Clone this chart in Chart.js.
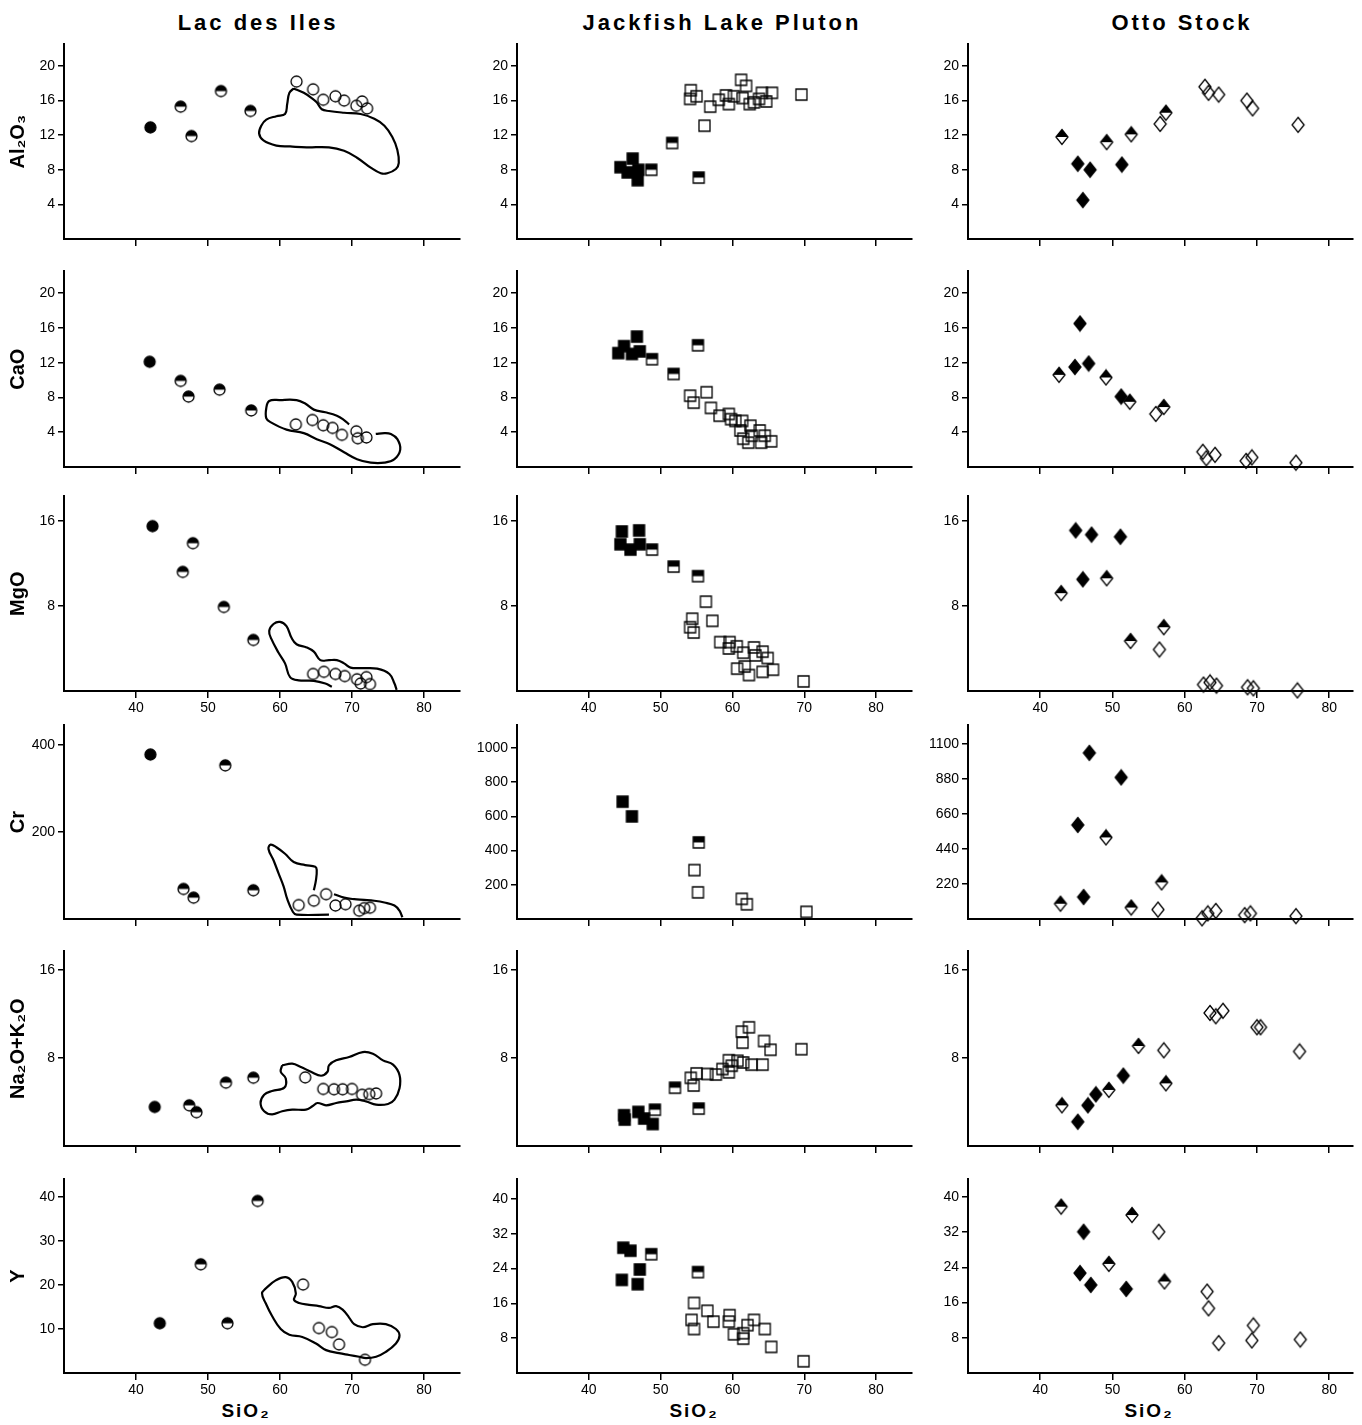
<!DOCTYPE html>
<html>
<head>
<meta charset="utf-8">
<script src="https://cdn.jsdelivr.net/npm/chart.js@4"></script>
<style>
  body { margin: 0; background: #fff; }
  #fig { position: relative; width: 1362px; height: 1425px; background: #fff; overflow: hidden; }
  .head, .xlab { position: absolute; transform: translate(-50%, -50%); white-space: nowrap; color: #000;
    font-family: "Liberation Sans", Arial, sans-serif; font-weight: bold; }
  .head { font-size: 22px; letter-spacing: 3px; }
  .xlab { font-size: 19px; letter-spacing: 2px; }
</style>
</head>
<body>
<div id="fig">
  <div class="head" style="left:258px;top:23px">Lac des Iles</div>
  <div class="head" style="left:722px;top:23px">Jackfish Lake Pluton</div>
  <div class="head" style="left:1182px;top:23px">Otto Stock</div>
  <div class="xlab" style="left:246px;top:1411px">SiO₂</div>
  <div class="xlab" style="left:694px;top:1411px">SiO₂</div>
  <div class="xlab" style="left:1149px;top:1411px">SiO₂</div>
</div>
<script>
// tick values
const siTicks = [40, 50, 60, 70, 80];
const pctTicks = [4, 8, 12, 16, 20];
const ticks8 = [8, 16];
const lacCrTicks = [200, 400];
const jlpCrTicks = [200, 400, 600, 800, 1000];
const ottoCrTicks = [220, 440, 660, 880, 1100];
const lacYTicks = [10, 20, 30, 40];
const yTicks8 = [8, 16, 24, 32, 40];

// Lac des Iles  [SiO2, value]
const lacAl2O3Filled = [[42.0, 12.9]];
const lacAl2O3Half = [[46.2, 15.3], [47.7, 11.9], [51.8, 17.1], [55.9, 14.8]];
const lacAl2O3Open = [[62.3, 18.2], [64.6, 17.3], [66.0, 16.1], [67.7, 16.5], [68.9, 16.0], [70.6, 15.4], [71.4, 15.9], [72.1, 15.1]];
const lacAl2O3Field = [[61.9, 17.4], [63.3, 16.9], [64.4, 16.3], [65.1, 15.8], [65.8, 15.0], [66.8, 14.8], [68.9, 14.6], [71.2, 14.45], [73.1, 13.9], [74.5, 13.1], [75.6, 11.8], [76.3, 10.3], [76.5, 8.8], [76.1, 8.1], [74.9, 7.6], [74.0, 7.6], [72.6, 8.25], [70.7, 9.4], [68.9, 10.2], [66.8, 10.6], [63.7, 10.6], [61.4, 10.7], [59.5, 10.8], [57.7, 11.4], [57.1, 12.2], [57.4, 13.1], [58.1, 13.8], [59.5, 14.2], [60.7, 14.45], [61.0, 15.6], [61.3, 16.9], [61.9, 17.4]];

const lacCaOFilled = [[41.9, 12.1]];
const lacCaOHalf = [[46.2, 9.9], [47.3, 8.1], [51.6, 8.9], [56.0, 6.5]];
const lacCaOOpen = [[62.2, 4.9], [64.5, 5.4], [66.0, 4.8], [67.3, 4.5], [68.6, 3.7], [70.6, 4.1], [70.8, 3.3], [72.0, 3.4]];
const lacCaOField = [[69.6, 4.9], [68.9, 5.4], [67.9, 5.9], [66.3, 6.3], [64.7, 6.6], [63.5, 7.3], [62.3, 7.7], [60.0, 7.7], [58.5, 7.6], [58.1, 6.8], [58.1, 5.6], [58.8, 5.1], [60.9, 4.3], [63.3, 3.9], [65.1, 3.2], [67.0, 2.6], [68.9, 1.7], [70.7, 0.9], [72.6, 0.5], [74.5, 0.5], [75.9, 0.9], [76.7, 2.0], [76.3, 3.2], [75.4, 3.8], [74.5, 3.9], [73.3, 3.8]];

const lacMgOFilled = [[42.3, 15.5]];
const lacMgOHalf = [[47.9, 13.9], [46.5, 11.2], [52.2, 7.9], [56.3, 4.8]];
const lacMgOOpen = [[64.6, 1.6], [66.1, 1.8], [67.7, 1.6], [69.0, 1.4], [70.7, 1.1], [72.0, 1.3], [71.2, 0.7], [72.5, 0.65]];
const lacMgOField = [[67.2, 0.4], [66.3, 0.7], [64.7, 0.96], [62.6, 1.0], [61.4, 1.3], [60.7, 2.6], [59.8, 3.6], [58.8, 4.9], [58.5, 5.65], [59.1, 6.3], [60.0, 6.5], [60.9, 6.1], [61.6, 5.0], [62.3, 4.4], [63.7, 4.1], [64.7, 3.7], [65.6, 2.9], [66.8, 2.9], [67.9, 2.9], [68.9, 2.6], [69.8, 2.2], [71.4, 2.15], [73.5, 2.1], [75.2, 1.6], [75.9, 0.7], [76.2, 0.1]];

const lacCrFilled = [[42.0, 378]];
const lacCrHalf = [[52.4, 353], [46.6, 69], [48.0, 49], [56.3, 66]];
const lacCrOpen = [[62.6, 32], [64.7, 42], [66.4, 57], [67.7, 31], [69.1, 34], [71.0, 19], [71.7, 25], [72.5, 26]];
const lacCrFieldA = [[64.7, 66], [65.0, 90], [65.1, 113], [64.9, 120], [63.5, 124], [61.9, 131], [60.7, 150], [59.5, 165], [58.7, 171], [58.4, 161], [59.1, 135], [59.8, 105], [60.5, 75], [61.0, 46], [61.8, 16], [62.3, 10], [66.8, 10]];
const lacCrFieldB = [[67.5, 57], [68.9, 49], [70.3, 45.5], [71.7, 44], [73.1, 42], [74.5, 38], [75.9, 31], [76.6, 19], [77.0, 4]];

const lacAlkFilled = [[42.6, 3.55]];
const lacAlkHalf = [[47.4, 3.7], [48.4, 3.07], [52.5, 5.76], [56.3, 6.21]];
const lacAlkOpen = [[63.5, 6.24], [66.0, 5.19], [67.5, 5.16], [68.7, 5.16], [70.0, 5.19], [71.4, 4.66], [72.4, 4.72], [73.35, 4.78]];
const lacAlkField = [[60.3, 7.34], [61.7, 7.49], [62.9, 7.19], [64.3, 6.75], [65.7, 6.39], [66.6, 6.75], [66.8, 7.34], [67.8, 7.79], [69.6, 8.09], [71.5, 8.54], [72.9, 8.39], [74.3, 7.79], [75.7, 7.4], [76.6, 6.45], [76.6, 5.25], [75.9, 4.21], [75.0, 3.82], [73.35, 3.76], [71.95, 4.06], [70.6, 4.21], [69.2, 4.06], [67.8, 3.91], [66.4, 3.7], [65.2, 3.91], [64.5, 3.61], [63.6, 3.31], [61.7, 3.31], [60.3, 3.16], [58.9, 2.87], [57.8, 3.16], [57.3, 3.91], [57.8, 4.66], [58.9, 5.01], [60.6, 5.31], [60.8, 6.15], [60.1, 6.75], [60.3, 7.34]];

const lacYFilled = [[43.3, 11.3]];
const lacYHalf = [[49.0, 24.7], [52.7, 11.3], [56.9, 39.1]];
const lacYOpen = [[63.2, 20.1], [65.4, 10.2], [67.2, 9.3], [68.2, 6.5], [71.8, 3.0]];
const lacYField = [[58.0, 19.2], [59.4, 21.05], [60.8, 21.8], [61.7, 20.7], [62.2, 18.1], [61.95, 16.6], [62.65, 15.9], [64.05, 15.5], [65.4, 15.2], [66.8, 14.8], [67.8, 15.2], [68.7, 14.4], [69.6, 12.6], [70.3, 11.1], [71.5, 10.4], [72.9, 11.1], [74.7, 11.1], [76.1, 10.0], [76.6, 8.5], [76.1, 6.7], [74.7, 4.8], [73.35, 3.7], [71.95, 3.4], [71.0, 3.7], [69.6, 4.1], [68.2, 4.5], [66.4, 5.2], [65.0, 6.7], [63.1, 8.2], [61.3, 8.7], [60.1, 10.0], [58.9, 12.95], [58.0, 15.9], [57.5, 18.1], [58.0, 19.2]];

// Jackfish Lake Pluton
const jlpAl2O3Filled = [[44.4, 8.3], [46.1, 9.3], [45.4, 7.7], [46.9, 8.0], [46.8, 6.8]];
const jlpAl2O3Half = [[48.7, 8.0], [51.6, 11.1], [55.3, 7.1]];
const jlpAl2O3Open = [[54.2, 17.2], [54.1, 16.2], [55.0, 16.5], [56.9, 15.3], [56.1, 13.1], [58.1, 16.1], [59.1, 16.6], [59.5, 15.6], [60.2, 16.5], [61.2, 18.4], [61.9, 17.7], [61.4, 16.3], [62.4, 15.6], [63.0, 15.8], [63.7, 16.2], [64.1, 16.9], [64.7, 15.9], [65.5, 16.9], [69.6, 16.7]];

const jlpCaOFilled = [[44.1, 13.1], [44.9, 13.9], [46.0, 13.0], [46.7, 15.0], [47.1, 13.3]];
const jlpCaOHalf = [[48.8, 12.4], [51.8, 10.7], [55.2, 14.0]];
const jlpCaOOpen = [[54.1, 8.2], [54.6, 7.4], [56.4, 8.6], [57.0, 6.8], [58.2, 5.9], [59.5, 6.1], [59.8, 5.5], [60.4, 5.3], [61.35, 5.3], [61.1, 4.2], [61.5, 3.25], [62.5, 4.75], [62.7, 3.6], [62.2, 2.8], [63.8, 4.2], [64.5, 3.6], [64.0, 2.8], [65.4, 2.95]];

const jlpMgOFilled = [[44.6, 15.0], [47.0, 15.1], [44.4, 13.8], [45.8, 13.3], [47.1, 13.8]];
const jlpMgOHalf = [[48.8, 13.3], [51.8, 11.7], [55.2, 10.8]];
const jlpMgOOpen = [[56.3, 8.4], [54.4, 6.8], [54.1, 6.0], [54.6, 5.5], [57.2, 6.6], [58.3, 4.6], [59.6, 4.6], [59.5, 4.0], [60.6, 4.2], [61.5, 3.6], [63.0, 4.1], [63.2, 3.35], [64.2, 3.7], [64.9, 3.1], [60.65, 2.1], [61.7, 2.3], [62.3, 1.5], [64.2, 1.8], [65.65, 2.0], [69.9, 0.9]];

const jlpCrFilled = [[44.7, 686], [46.0, 600]];
const jlpCrHalf = [[55.3, 448]];
const jlpCrOpen = [[54.7, 286], [55.2, 156], [61.3, 118], [62.0, 86], [70.3, 42]];

const jlpAlkFilled = [[44.9, 2.8], [45.0, 2.4], [46.9, 3.1], [47.7, 2.5], [48.9, 2.0]];
const jlpAlkHalf = [[49.2, 3.3], [52.0, 5.3], [55.3, 3.4]];
const jlpAlkOpen = [[54.2, 6.2], [54.6, 5.5], [55.0, 6.6], [56.5, 6.55], [57.7, 6.5], [58.6, 7.0], [59.5, 7.8], [59.5, 6.7], [59.9, 7.3], [60.7, 7.75], [61.5, 7.6], [61.3, 10.4], [61.4, 9.4], [62.3, 10.8], [62.65, 7.4], [64.2, 7.4], [64.4, 9.55], [65.3, 8.75], [69.6, 8.8]];

const jlpYFilled = [[44.8, 28.8], [45.8, 28.1], [44.6, 21.4], [47.1, 23.8], [46.8, 20.4]];
const jlpYHalf = [[48.7, 27.3], [55.2, 23.2]];
const jlpYOpen = [[54.65, 16.1], [54.3, 12.2], [54.65, 10.1], [56.5, 14.3], [57.35, 11.8], [59.6, 13.3], [59.5, 11.8], [60.2, 8.9], [61.5, 7.9], [61.5, 9.15], [62.1, 11.0], [63.0, 12.2], [64.5, 10.1], [65.4, 6.0], [69.9, 2.7]];

// Otto Stock
const ottoAl2O3Filled = [[45.2, 8.7], [46.9, 8.0], [45.9, 4.5], [51.3, 8.6]];
const ottoAl2O3Half = [[43.0, 11.8], [49.2, 11.2], [52.6, 12.1], [57.4, 14.6]];
const ottoAl2O3Open = [[56.6, 13.3], [62.8, 17.6], [63.3, 16.9], [64.7, 16.7], [68.6, 16.0], [69.4, 15.1], [75.7, 13.2]];

const ottoCaOFilled = [[45.5, 16.5], [44.8, 11.5], [46.7, 11.9], [51.2, 8.1]];
const ottoCaOHalf = [[42.6, 10.6], [49.1, 10.3], [52.4, 7.5], [57.1, 6.9]];
const ottoCaOOpen = [[56.0, 6.1], [62.5, 1.75], [63.0, 1.0], [64.2, 1.4], [68.5, 0.7], [69.3, 1.1], [75.4, 0.5]];

const ottoMgOFilled = [[44.9, 15.1], [47.1, 14.7], [51.1, 14.5], [45.9, 10.5]];
const ottoMgOHalf = [[42.9, 9.2], [49.2, 10.6], [52.5, 4.7], [57.1, 6.0]];
const ottoMgOOpen = [[56.5, 3.9], [62.6, 0.6], [63.5, 0.8], [64.4, 0.5], [68.7, 0.35], [69.5, 0.25], [75.6, 0.05]];

const ottoCrFilled = [[46.8, 1044], [51.2, 890], [45.2, 591], [46.0, 138]];
const ottoCrHalf = [[49.1, 513], [56.8, 230], [42.8, 96], [52.6, 72]];
const ottoCrOpen = [[56.3, 59], [62.4, 4], [63.2, 35], [64.3, 51], [68.3, 24], [69.1, 35], [75.4, 18]];

const ottoAlkFilled = [[45.2, 2.2], [46.6, 3.7], [47.7, 4.7], [51.5, 6.4]];
const ottoAlkHalf = [[43.0, 3.7], [49.5, 5.1], [53.6, 9.1], [57.4, 5.7]];
const ottoAlkOpen = [[57.1, 8.7], [63.5, 12.1], [64.3, 11.8], [65.3, 12.3], [70.0, 10.8], [70.5, 10.8], [75.9, 8.6]];

const ottoYFilled = [[46.0, 32.1], [45.5, 22.7], [47.0, 20.0], [51.9, 19.1]];
const ottoYHalf = [[42.9, 37.8], [52.7, 35.9], [49.5, 24.8], [57.2, 20.8]];
const ottoYOpen = [[56.4, 32.1], [63.1, 18.5], [63.3, 14.7], [69.5, 10.8], [69.3, 7.4], [64.7, 6.8], [76.0, 7.6]];

Chart.defaults.font.family = '"Liberation Sans", Arial, sans-serif';
Chart.defaults.font.size = 14;
Chart.defaults.color = '#000';

// marker pictures: filled / half (top black) / open
function marker(shape, fill) {
  const w = shape === 'diamond' ? 16 : 15;
  const h = shape === 'diamond' ? 18 : 15;
  const c = document.createElement('canvas');
  c.width = w; c.height = h;
  const g = c.getContext('2d');
  const path = () => {
    g.beginPath();
    if (shape === 'circle') g.arc(7.5, 7.5, 5.5, 0, Math.PI * 2);
    else if (shape === 'square') g.rect(2, 2, 11, 11);
    else { g.moveTo(8, 1.5); g.lineTo(14, 9); g.lineTo(8, 16.5); g.lineTo(2, 9); g.closePath(); }
  };
  if (fill === 'half') {
    path(); g.fillStyle = '#fff'; g.fill();
    g.save(); g.beginPath(); g.rect(0, 0, w, h / 2); g.clip();
    path(); g.fillStyle = '#000'; g.fill(); g.restore();
  }
  if (fill === 'filled') { path(); g.fillStyle = '#000'; g.fill(); }
  path(); g.lineWidth = 1.3; g.strokeStyle = '#000'; g.stroke();
  return c;
}

const columns = [
  { left: 64, right: 460, xMax: 85, shape: 'circle' },
  { left: 517, right: 912, xMax: 85, shape: 'square' },
  { left: 968, right: 1353, xMax: 83.3, shape: 'diamond' }
];
const rows = [[41, 239], [268, 467], [493, 691], [722, 919], [948, 1146], [1176, 1373]];
const rowTitles = ['Al₂O₃', 'CaO', 'MgO', 'Cr', 'Na₂O+K₂O', 'Y'];

const panels = [
  { r: 0, c: 0, yMax: 22.5, ticks: pctTicks, filled: lacAl2O3Filled, half: lacAl2O3Half, open: lacAl2O3Open, field: [lacAl2O3Field] },
  { r: 1, c: 0, yMax: 22.5, ticks: pctTicks, filled: lacCaOFilled, half: lacCaOHalf, open: lacCaOOpen, field: [lacCaOField] },
  { r: 2, c: 0, yMax: 18.3, ticks: ticks8, filled: lacMgOFilled, half: lacMgOHalf, open: lacMgOOpen, field: [lacMgOField] },
  { r: 3, c: 0, yMax: 445, ticks: lacCrTicks, filled: lacCrFilled, half: lacCrHalf, open: lacCrOpen, field: [lacCrFieldA, lacCrFieldB] },
  { r: 4, c: 0, yMax: 17.7, ticks: ticks8, filled: lacAlkFilled, half: lacAlkHalf, open: lacAlkOpen, field: [lacAlkField] },
  { r: 5, c: 0, yMax: 44, ticks: lacYTicks, filled: lacYFilled, half: lacYHalf, open: lacYOpen, field: [lacYField] },
  { r: 0, c: 1, yMax: 22.5, ticks: pctTicks, filled: jlpAl2O3Filled, half: jlpAl2O3Half, open: jlpAl2O3Open, field: [] },
  { r: 1, c: 1, yMax: 22.5, ticks: pctTicks, filled: jlpCaOFilled, half: jlpCaOHalf, open: jlpCaOOpen, field: [] },
  { r: 2, c: 1, yMax: 18.3, ticks: ticks8, filled: jlpMgOFilled, half: jlpMgOHalf, open: jlpMgOOpen, field: [] },
  { r: 3, c: 1, yMax: 1132, ticks: jlpCrTicks, filled: jlpCrFilled, half: jlpCrHalf, open: jlpCrOpen, field: [] },
  { r: 4, c: 1, yMax: 17.7, ticks: ticks8, filled: jlpAlkFilled, half: jlpAlkHalf, open: jlpAlkOpen, field: [] },
  { r: 5, c: 1, yMax: 44.5, ticks: yTicks8, filled: jlpYFilled, half: jlpYHalf, open: jlpYOpen, field: [] },
  { r: 0, c: 2, yMax: 22.5, ticks: pctTicks, filled: ottoAl2O3Filled, half: ottoAl2O3Half, open: ottoAl2O3Open, field: [] },
  { r: 1, c: 2, yMax: 22.5, ticks: pctTicks, filled: ottoCaOFilled, half: ottoCaOHalf, open: ottoCaOOpen, field: [] },
  { r: 2, c: 2, yMax: 18.3, ticks: ticks8, filled: ottoMgOFilled, half: ottoMgOHalf, open: ottoMgOOpen, field: [] },
  { r: 3, c: 2, yMax: 1217, ticks: ottoCrTicks, filled: ottoCrFilled, half: ottoCrHalf, open: ottoCrOpen, field: [] },
  { r: 4, c: 2, yMax: 17.7, ticks: ticks8, filled: ottoAlkFilled, half: ottoAlkHalf, open: ottoAlkOpen, field: [] },
  { r: 5, c: 2, yMax: 44, ticks: yTicks8, filled: ottoYFilled, half: ottoYHalf, open: ottoYOpen, field: [] }
];

const pts = arr => arr.map(([x, y]) => ({ x: x, y: y }));

function makePanel(p) {
  const col = columns[p.c];
  const [top, bottom] = rows[p.r];
  const yW = p.c === 0 ? 64 : 62;
  const padT = 8, padR = 8, xH = 40;
  const w = yW + (col.right - col.left) + padR;
  const h = padT + (bottom - top) + xH;

  const canvas = document.createElement('canvas');
  canvas.width = w;
  canvas.height = h;
  canvas.style.cssText = 'position:absolute;left:' + (col.left - yW) + 'px;top:' + (top - padT) + 'px';
  document.getElementById('fig').appendChild(canvas);

  const pointSet = (data, fill) => ({
    data: pts(data), showLine: false, clip: false,
    pointStyle: marker(col.shape, fill), pointRadius: 7, pointHoverRadius: 7
  });
  const datasets = [pointSet(p.filled, 'filled'), pointSet(p.half, 'half'), pointSet(p.open, 'open')];
  // outlines of the fields
  p.field.forEach(piece => datasets.push({
    data: pts(piece), showLine: true, clip: false, pointRadius: 0, pointHoverRadius: 0,
    borderColor: '#000', borderWidth: 2.2, tension: 0.4, fill: false
  }));

  new Chart(canvas, {
    type: 'scatter',
    data: { datasets: datasets },
    options: {
      responsive: false,
      animation: false,
      events: [],
      layout: { padding: { top: padT, right: padR, left: 0, bottom: 0 } },
      plugins: { legend: { display: false }, tooltip: { enabled: false } },
      scales: {
        x: {
          type: 'linear', min: 30, max: col.xMax,
          afterBuildTicks: s => { s.ticks = siTicks.map(v => ({ value: v })); },
          afterFit: s => { s.height = xH; },
          border: { display: true, color: '#000', width: 2 },
          grid: { display: true, drawOnChartArea: false, drawTicks: true, tickLength: 7, color: '#000', lineWidth: 1.5 },
          ticks: { display: p.r === 2 || p.r === 5, padding: 2, maxRotation: 0, color: '#000', callback: v => String(v) }
        },
        y: {
          type: 'linear', min: 0, max: p.yMax,
          afterBuildTicks: s => { s.ticks = p.ticks.map(v => ({ value: v })); },
          afterFit: s => { s.width = yW; },
          border: { display: true, color: '#000', width: 2 },
          grid: { display: true, drawOnChartArea: false, drawTicks: true, tickLength: 6, color: '#000', lineWidth: 1.5 },
          ticks: { padding: 3, color: '#000', callback: v => String(v) },
          title: {
            display: p.c === 0, text: rowTitles[p.r], color: '#000',
            font: { size: 20, weight: 'bold' }, padding: { top: 6, bottom: 0 }
          }
        }
      }
    }
  });
}

panels.forEach(makePanel);
</script>
</body>
</html>
